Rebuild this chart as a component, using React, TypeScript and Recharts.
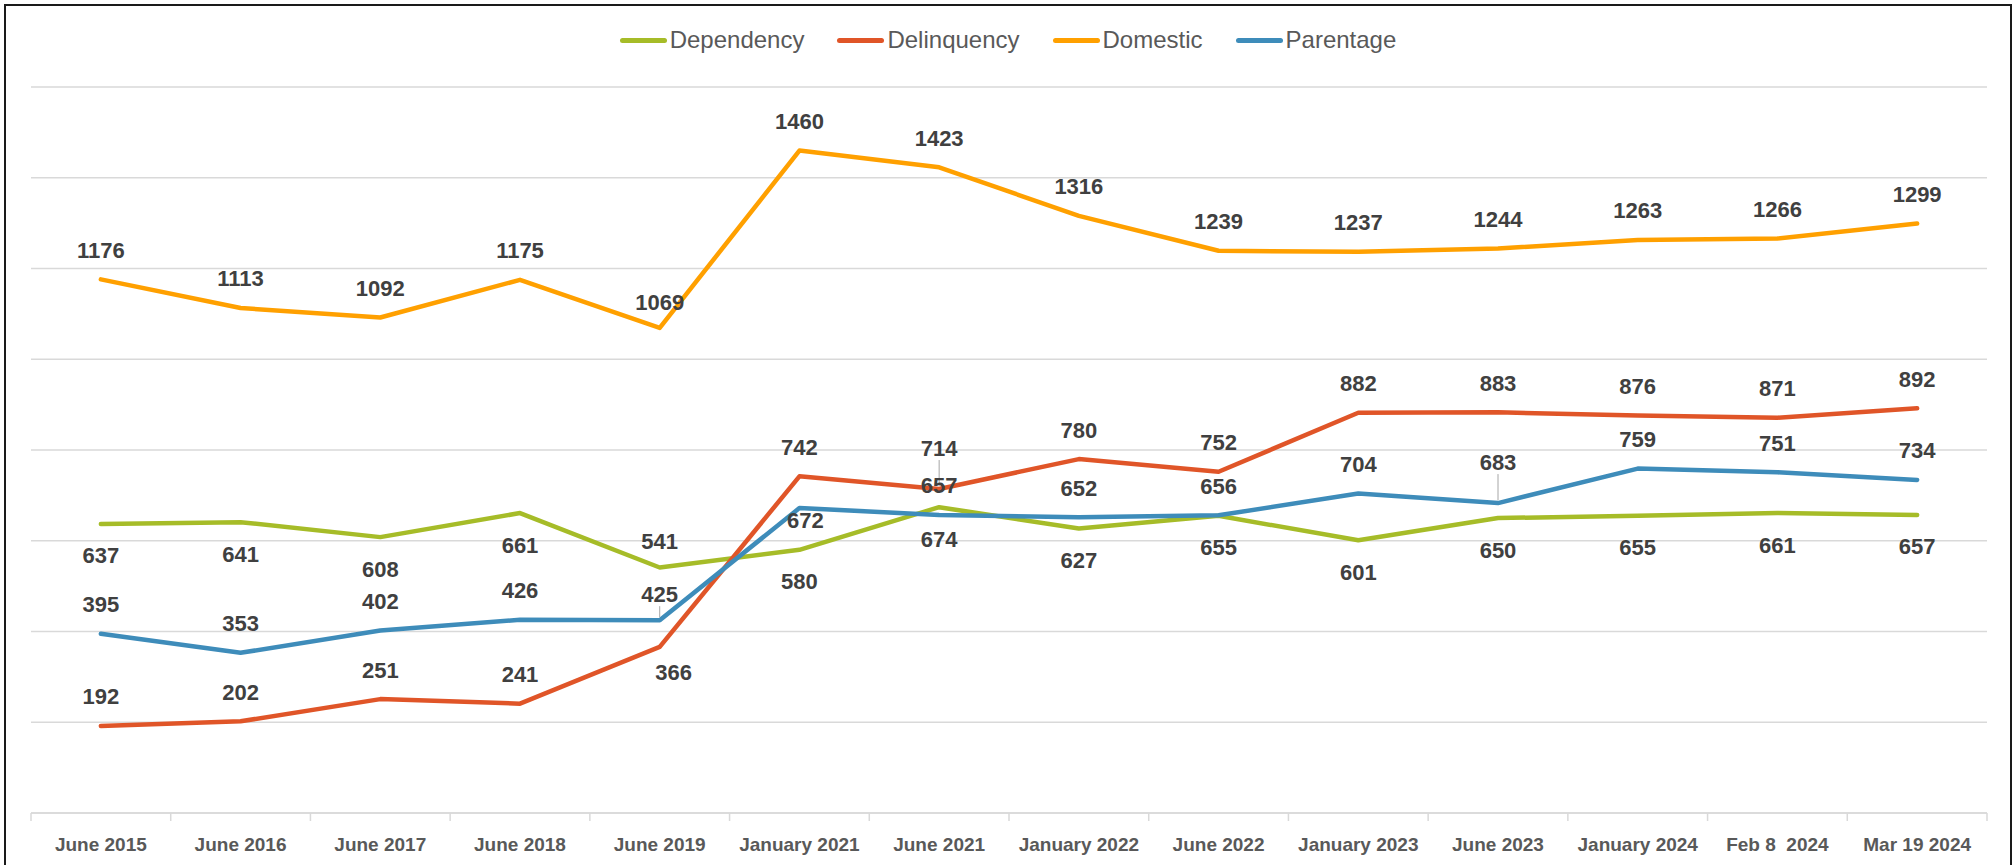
import { LineChart, Line, XAxis, YAxis, CartesianGrid, Legend, LabelList } from 'recharts';

// Category labels along the x axis
const categories = [
  'June 2015',
  'June 2016',
  'June 2017',
  'June 2018',
  'June 2019',
  'January 2021',
  'June 2021',
  'January 2022',
  'June 2022',
  'January 2023',
  'June 2023',
  'January 2024',
  'Feb 8  2024',
  'Mar 19 2024',
];

const dependency = [637, 641, 608, 661, 541, 580, 674, 627, 655, 601, 650, 655, 661, 657];
const delinquency = [192, 202, 251, 241, 366, 742, 714, 780, 752, 882, 883, 876, 871, 892];
const domestic = [1176, 1113, 1092, 1175, 1069, 1460, 1423, 1316, 1239, 1237, 1244, 1263, 1266, 1299];
const parentage = [395, 353, 402, 426, 425, 672, 657, 652, 656, 704, 683, 759, 751, 734];

const yTicks = [0, 200, 400, 600, 800, 1000, 1200, 1400, 1600];

const data = categories.map((name, i) => ({
  name,
  Dependency: dependency[i],
  Delinquency: delinquency[i],
  Domestic: domestic[i],
  Parentage: parentage[i],
}));

const SERIES = [
  { key: 'Dependency', color: '#A6BC28' },
  { key: 'Delinquency', color: '#E05528' },
  { key: 'Domestic', color: '#FFA000' },
  { key: 'Parentage', color: '#3E8CBA' },
];

const CHART_W = 2004;
const CHART_H = 860;
const MARGIN = { top: 81, right: 23, bottom: 23, left: 25 };
const BAND_HALF = (CHART_W - MARGIN.left - MARGIN.right) / categories.length / 2;

// label placement, Excel style: most above the point, dependency below
const defaultDy: Record<string, number> = {
  Dependency: 32,
  Delinquency: -29,
  Domestic: -29,
  Parentage: -29,
};

type Tweak = { dy?: number; dx?: number; leader?: boolean };
const labelTweaks: Record<string, Record<number, Tweak>> = {
  Dependency: { 4: { dy: -26 } },
  Delinquency: { 4: { dy: 26, dx: 14 }, 6: { dy: -41, leader: true } },
  Domestic: { 4: { dy: -25 } },
  Parentage: { 4: { dy: -26, leader: true }, 5: { dy: 12, dx: 6 }, 10: { dy: -41, leader: true } },
};

function makeLabel(series: string) {
  return (props: any) => {
    const x = props.x ?? props.viewBox?.x;
    const y = props.y ?? props.viewBox?.y;
    if (x == null || y == null) return null;
    const t = labelTweaks[series]?.[props.index] ?? {};
    const dy = t.dy ?? defaultDy[series];
    const dx = t.dx ?? 0;
    return (
      <g>
        {t.leader && (
          <line x1={x} y1={y + dy + 12} x2={x} y2={y - 3} stroke="#a6a6a6" strokeWidth={1} />
        )}
        <text
          x={x + dx}
          y={y + dy}
          textAnchor="middle"
          dominantBaseline="central"
          fill="#404040"
          fontSize={22}
          fontWeight="bold"
        >
          {props.value}
        </text>
      </g>
    );
  };
}

function CategoryTick(props: any) {
  const { x, y, payload, index } = props;
  return (
    <g>
      <line x1={x - BAND_HALF} y1={y} x2={x - BAND_HALF} y2={y + 8} stroke="#d9d9d9" strokeWidth={1.5} />
      {index === categories.length - 1 && (
        <line x1={x + BAND_HALF} y1={y} x2={x + BAND_HALF} y2={y + 8} stroke="#d9d9d9" strokeWidth={1.5} />
      )}
      <text
        x={x}
        y={y + 31}
        textAnchor="middle"
        dominantBaseline="central"
        fill="#595959"
        fontSize={19}
        fontWeight="bold"
        style={{ whiteSpace: 'pre' }}
      >
        {payload.value}
      </text>
    </g>
  );
}

function LegendContent() {
  return (
    <div style={{ display: 'flex', justifyContent: 'center', alignItems: 'center', height: 30 }}>
      {SERIES.map((s, i) => (
        <div key={s.key} style={{ display: 'flex', alignItems: 'center', marginLeft: i === 0 ? 0 : 33 }}>
          <span style={{ display: 'inline-block', width: 47, height: 5, borderRadius: 3, background: s.color }} />
          <span style={{ marginLeft: 3, fontSize: 24, color: '#595959', lineHeight: '30px' }}>{s.key}</span>
        </div>
      ))}
    </div>
  );
}

export default function App() {
  return (
    <>
      <style>{'body{margin:0;overflow:hidden;background:#fff}'}</style>
      <div
        style={{
          position: 'absolute',
          left: 4,
          top: 4,
          width: 2008,
          height: 880,
          border: '2px solid #1a1a1a',
          boxSizing: 'border-box',
          background: '#fff',
          fontFamily: "'Liberation Sans', Arial, sans-serif",
        }}
      >
        <LineChart width={CHART_W} height={CHART_H} data={data} margin={MARGIN}>
          <CartesianGrid vertical={false} stroke="#d9d9d9" strokeWidth={1.5} />
          <XAxis
            dataKey="name"
            scale="band"
            interval={0}
            tickSize={0}
            tickMargin={0}
            tickLine={false}
            axisLine={{ stroke: '#d9d9d9', strokeWidth: 1.5 }}
            tick={<CategoryTick />}
            height={30}
          />
          <YAxis hide domain={[0, 1600]} ticks={yTicks} />
          <Legend
            verticalAlign="middle"
            align="center"
            wrapperStyle={{ top: 19, left: 0, width: CHART_W }}
            content={() => <LegendContent />}
          />
          {SERIES.map((s) => (
            <Line
              key={s.key}
              type="linear"
              dataKey={s.key}
              stroke={s.color}
              strokeWidth={4.5}
              strokeLinejoin="round"
              strokeLinecap="round"
              dot={false}
              activeDot={false}
              isAnimationActive={false}
            >
              <LabelList dataKey={s.key} content={makeLabel(s.key)} />
            </Line>
          ))}
        </LineChart>
      </div>
    </>
  );
}
